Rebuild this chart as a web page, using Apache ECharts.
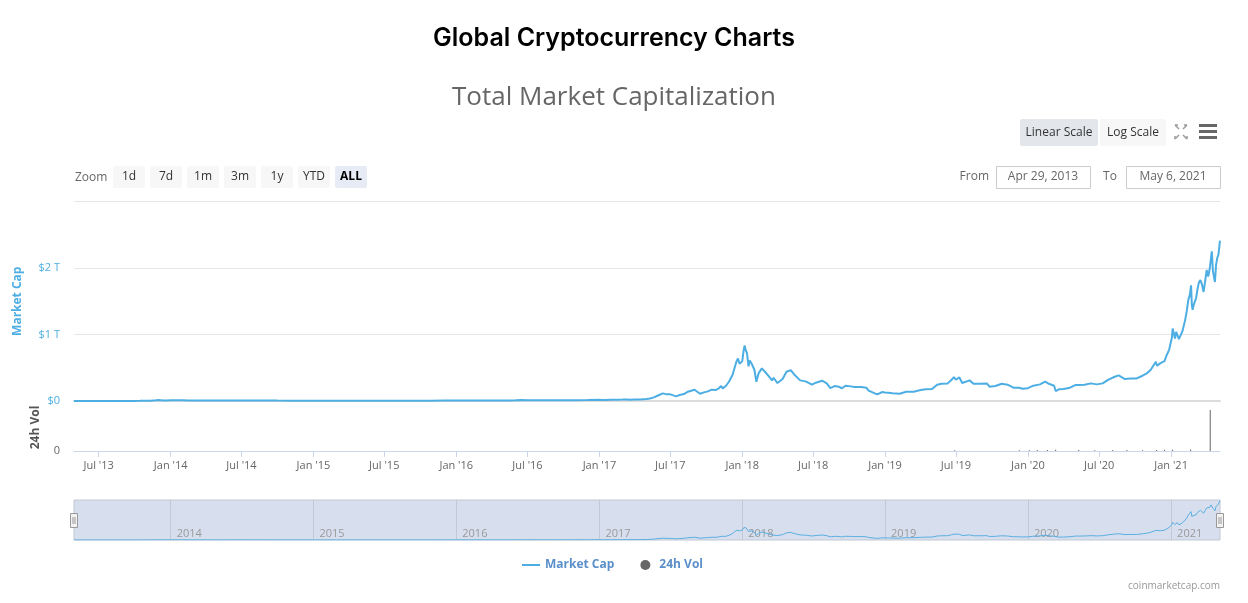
<!DOCTYPE html>
<html>
<head>
<meta charset="utf-8">
<script src="https://cdn.jsdelivr.net/npm/echarts@6/dist/echarts.min.js"></script>
<style>
html,body{margin:0;padding:0;background:#fff;}
#chart{width:1248px;height:603px;}
</style>
</head>
<body>
<div id="chart"></div>
<script>
// Total market capitalization (billions USD)
const capDates = [
  '2013-04-29','2013-05-15','2013-06-01','2013-06-15','2013-07-01','2013-07-15','2013-08-01','2013-08-15','2013-09-01','2013-09-15','2013-10-01','2013-10-15','2013-11-01','2013-11-10','2013-11-18','2013-11-25','2013-12-01','2013-12-07','2013-12-15','2013-12-22',
  '2014-01-01','2014-01-15','2014-02-01','2014-02-15','2014-03-01','2014-03-15','2014-04-01','2014-04-15','2014-05-01','2014-05-15','2014-06-01','2014-06-15','2014-07-01','2014-08-01','2014-09-01','2014-10-01','2014-11-01','2014-12-01',
  '2015-01-01','2015-01-15','2015-02-01','2015-03-01','2015-04-01','2015-05-01','2015-06-01','2015-07-01','2015-07-15','2015-08-01','2015-09-01','2015-10-01','2015-11-01','2015-11-05','2015-12-01',
  '2016-01-01','2016-02-01','2016-03-01','2016-04-01','2016-05-01','2016-05-20','2016-06-01','2016-06-16','2016-07-01','2016-08-01','2016-09-01','2016-10-01','2016-11-01','2016-12-01',
  '2017-01-01','2017-01-08','2017-01-15','2017-02-01','2017-02-15','2017-03-01','2017-03-10','2017-03-20','2017-04-01','2017-04-15','2017-05-01','2017-05-10','2017-05-20','2017-05-25','2017-06-01','2017-06-12','2017-06-20','2017-07-01','2017-07-16','2017-07-25','2017-08-05','2017-08-15','2017-09-01','2017-09-15','2017-09-25','2017-10-05','2017-10-15','2017-10-25','2017-11-01','2017-11-08','2017-11-12','2017-11-20','2017-11-28','2017-12-07','2017-12-10','2017-12-17','2017-12-21','2017-12-25','2017-12-28',
  '2018-01-01','2018-01-04','2018-01-07','2018-01-10','2018-01-13','2018-01-17','2018-01-20','2018-01-25','2018-02-01','2018-02-06','2018-02-12','2018-02-20','2018-02-28','2018-03-05','2018-03-10','2018-03-18','2018-03-22','2018-04-01','2018-04-06','2018-04-14','2018-04-24','2018-05-05','2018-05-15','2018-05-29','2018-06-12','2018-06-28','2018-07-08','2018-07-24','2018-08-05','2018-08-14','2018-08-25','2018-09-05','2018-09-12','2018-09-22','2018-10-05','2018-10-15','2018-11-01','2018-11-14','2018-11-20','2018-11-25','2018-12-07','2018-12-14','2018-12-24',
  '2019-01-01','2019-01-10','2019-01-20','2019-02-07','2019-02-24','2019-03-15','2019-04-02','2019-04-15','2019-05-01','2019-05-14','2019-05-25','2019-06-10','2019-06-20','2019-06-26','2019-07-01','2019-07-10','2019-07-17','2019-08-05','2019-08-15','2019-09-01','2019-09-18','2019-09-25','2019-10-10','2019-10-26','2019-11-10','2019-11-25','2019-12-10','2019-12-18',
  '2020-01-01','2020-01-15','2020-02-01','2020-02-14','2020-02-25','2020-03-08','2020-03-12','2020-03-20','2020-04-01','2020-04-15','2020-05-01','2020-05-10','2020-05-25','2020-06-10','2020-06-25','2020-07-10','2020-07-25','2020-08-10','2020-08-20','2020-09-05','2020-09-20','2020-10-05','2020-10-20','2020-11-01','2020-11-10','2020-11-23','2020-11-26','2020-12-05','2020-12-15','2020-12-20','2020-12-27',
  '2021-01-03','2021-01-05','2021-01-08','2021-01-11','2021-01-14','2021-01-17','2021-01-21','2021-01-24','2021-01-30','2021-02-06','2021-02-10','2021-02-14','2021-02-18','2021-02-21','2021-02-23','2021-02-25','2021-02-28','2021-03-06','2021-03-10','2021-03-13','2021-03-17','2021-03-21','2021-03-25','2021-03-29','2021-04-02','2021-04-06','2021-04-10','2021-04-13','2021-04-15','2021-04-18','2021-04-23','2021-04-26','2021-04-29','2021-05-02','2021-05-06'
];
const capValues = [
  1.6,1.4,1.4,1.3,1.1,1.0,1.3,1.3,1.7,1.6,1.8,2.1,2.8,4.0,7.5,10.0,13.5,12.5,9.0,8.6,
  10.5,11.5,11.0,9.0,8.5,8.0,6.5,7.0,6.0,6.5,8.5,8.8,8.8,8.3,7.3,5.9,5.3,5.5,
  5.3,3.2,3.7,4.0,4.0,3.6,3.5,4.4,4.8,4.6,4.2,4.4,5.5,7.0,6.4,
  7.0,6.6,7.8,7.5,8.0,8.6,10.0,13.5,11.5,10.2,10.4,10.8,12.0,13.4,
  17.7,15,15.5,17,17.8,21,24,19,21.5,23.5,30,38,55,85,87,115,103,100,70,90,105,140,170,110,130,145,170,165,185,225,190,225,290,390,420,590,640,560,540,
  600,740,835,760,720,520,610,560,470,290,420,490,440,470,370,310,350,270,260,330,440,465,390,310,295,245,275,305,265,195,225,215,190,230,220,210,210,200,155,125,110,102,135,
  128,125,118,110,138,140,165,175,180,245,260,265,320,360,320,355,270,310,260,260,265,215,225,260,245,200,198,185,
  193,230,250,290,255,230,150,175,180,195,240,240,245,265,250,265,320,365,385,330,340,340,380,420,470,590,530,570,600,680,770,
  950,1090,1120,940,1040,1070,930,920,1050,1220,1350,1520,1600,1740,1450,1370,1450,1550,1700,1780,1820,1750,1640,1800,1970,1870,2000,2150,2250,1950,1790,2050,2150,2200,2410
];
// 24h volume (billions USD)
const volDates = ['2019-06-28','2019-12-10','2020-01-05','2020-01-25','2020-02-20','2020-03-12','2020-05-10','2020-06-20','2020-08-05','2020-09-10','2020-10-20','2020-11-25','2020-12-15','2021-01-05','2021-02-20','2021-04-11'];
const volValues = [60,60,70,80,90,110,80,70,90,80,70,90,100,110,120,3500];
// axis ticks
const xTickDates = ['2013-07-01','2014-01-01','2014-07-01','2015-01-01','2015-07-01','2016-01-01','2016-07-01','2017-01-01','2017-07-01','2018-01-01','2018-07-01','2019-01-01','2019-07-01','2020-01-01','2020-07-01','2021-01-01'];
const navYearDates = ['2014-01-01','2015-01-01','2016-01-01','2017-01-01','2018-01-01','2019-01-01','2020-01-01','2021-01-01'];
const monthNames = ['Jan','Feb','Mar','Apr','May','Jun','Jul','Aug','Sep','Oct','Nov','Dec'];

const ts = s => { const p = s.split('-').map(Number); return Date.UTC(p[0], p[1] - 1, p[2]); };
const xMin = ts('2013-04-29'), xMax = ts('2021-05-06');
const capData = capDates.map((d, i) => [ts(d), capValues[i]]);
const volData = volDates.map((d, i) => [ts(d), volValues[i]]);
const xTicks = xTickDates.map(ts);
const navTicks = navYearDates.map(ts);

const FONT = '"Open Sans", "DejaVu Sans", sans-serif';
const BLUE = '#4daee3';

function btn(x, y, w, h, label, fill, bold) {
  return [
    {type: 'rect', shape: {x: x, y: y, width: w, height: h, r: 2}, style: {fill: fill}},
    {type: 'text', x: x + w / 2, y: y + h / 2, style: {text: label, fill: bold ? '#000' : '#333', font: (bold ? 'bold ' : '') + '12px ' + FONT, align: 'center', verticalAlign: 'middle'}}
  ];
}
const zoomBtns = [];
[['1d',113],['7d',150],['1m',187],['3m',224],['1y',261],['YTD',298]].forEach(b => zoomBtns.push(...btn(b[1], 166, 32, 22, b[0], '#f7f7f7', false)));
zoomBtns.push(...btn(335, 166, 32, 22, 'ALL', '#e6ebf5', true));

const graphics = [
  {type: 'text', x: 614, y: 38, style: {text: 'Global Cryptocurrency Charts', fill: '#000', font: '600 25px Inter, "Open Sans", sans-serif', align: 'center', verticalAlign: 'middle'}},
  {type: 'text', x: 614, y: 98, style: {text: 'Total Market Capitalization', fill: '#666', font: '26px ' + FONT, align: 'center', verticalAlign: 'middle'}},
  ...btn(1020, 119, 78, 27, 'Linear Scale', '#e3e6eb', false),
  ...btn(1100, 119, 66, 27, 'Log Scale', '#f7f7f7', false),
  {type: 'polyline', shape: {points: [[1175,125],[1179,129]]}, style: {stroke: '#999', lineWidth: 1.5}},
  {type: 'polyline', shape: {points: [[1175,125],[1178,125]]}, style: {stroke: '#999', lineWidth: 1.5}},
  {type: 'polyline', shape: {points: [[1187,125],[1183,129]]}, style: {stroke: '#999', lineWidth: 1.5}},
  {type: 'polyline', shape: {points: [[1187,125],[1184,125]]}, style: {stroke: '#999', lineWidth: 1.5}},
  {type: 'polyline', shape: {points: [[1175,139],[1179,135]]}, style: {stroke: '#999', lineWidth: 1.5}},
  {type: 'polyline', shape: {points: [[1175,139],[1175,136]]}, style: {stroke: '#999', lineWidth: 1.5}},
  {type: 'polyline', shape: {points: [[1187,139],[1183,135]]}, style: {stroke: '#999', lineWidth: 1.5}},
  {type: 'polyline', shape: {points: [[1187,139],[1187,136]]}, style: {stroke: '#999', lineWidth: 1.5}},
  {type: 'rect', shape: {x: 1199, y: 124, width: 18, height: 3}, style: {fill: '#666'}},
  {type: 'rect', shape: {x: 1199, y: 130, width: 18, height: 3}, style: {fill: '#666'}},
  {type: 'rect', shape: {x: 1199, y: 136, width: 18, height: 3}, style: {fill: '#666'}},
  {type: 'text', x: 75, y: 178, style: {text: 'Zoom', fill: '#666', font: '12px ' + FONT, align: 'left', verticalAlign: 'middle'}},
  ...zoomBtns,
  {type: 'text', x: 989, y: 177, style: {text: 'From', fill: '#666', font: '12px ' + FONT, align: 'right', verticalAlign: 'middle'}},
  {type: 'rect', shape: {x: 996.5, y: 166.5, width: 94, height: 22}, style: {fill: '#fff', stroke: '#ccc', lineWidth: 1}},
  {type: 'text', x: 1043, y: 177, style: {text: 'Apr 29, 2013', fill: '#666', font: '12px ' + FONT, align: 'center', verticalAlign: 'middle'}},
  {type: 'text', x: 1110, y: 177, style: {text: 'To', fill: '#666', font: '12px ' + FONT, align: 'center', verticalAlign: 'middle'}},
  {type: 'rect', shape: {x: 1126.5, y: 166.5, width: 94, height: 22}, style: {fill: '#fff', stroke: '#ccc', lineWidth: 1}},
  {type: 'text', x: 1173, y: 177, style: {text: 'May 6, 2021', fill: '#666', font: '12px ' + FONT, align: 'center', verticalAlign: 'middle'}},
  {type: 'rect', shape: {x: 70.5, y: 513.5, width: 7, height: 14}, style: {fill: '#f2f2f2', stroke: '#999', lineWidth: 1}, z: 100},
  {type: 'polyline', shape: {points: [[73,517],[73,524]]}, style: {stroke: '#999', lineWidth: 1}, z: 101},
  {type: 'polyline', shape: {points: [[75,517],[75,524]]}, style: {stroke: '#999', lineWidth: 1}, z: 101},
  {type: 'rect', shape: {x: 1216.5, y: 513.5, width: 7, height: 14}, style: {fill: '#f2f2f2', stroke: '#999', lineWidth: 1}, z: 100},
  {type: 'polyline', shape: {points: [[1219,517],[1219,524]]}, style: {stroke: '#999', lineWidth: 1}, z: 101},
  {type: 'polyline', shape: {points: [[1221,517],[1221,524]]}, style: {stroke: '#999', lineWidth: 1}, z: 101},
  {type: 'text', x: 1220, y: 586, style: {text: 'coinmarketcap.com', fill: '#999', font: '10px ' + FONT, align: 'right', verticalAlign: 'middle'}}
];

const fmtMonth = v => { const d = new Date(v); return monthNames[d.getUTCMonth()] + " '" + String(d.getUTCFullYear()).slice(2); };

const option = {
  animation: false,
  backgroundColor: '#fff',
  textStyle: {fontFamily: FONT},
  graphic: graphics,
  legend: {
    left: 517, top: 554,
    itemGap: 26, itemWidth: 18, itemHeight: 10,
    textStyle: {color: '#5b8fc9', fontWeight: 'bold', fontSize: 12, fontFamily: FONT},
    data: [
      {name: 'Market Cap', icon: 'path://M0,0L18,0L18,2L0,2Z'},
      {name: '24h Vol', icon: 'circle'}
    ]
  },
  grid: [
    {left: 74, right: 28, top: 201.5, height: 199.5},
    {left: 74, right: 28, top: 404, height: 47},
    {left: 74, right: 28, top: 500, height: 40, show: true, backgroundColor: '#d7dfee', borderColor: '#c2c8d4', borderWidth: 1}
  ],
  xAxis: [
    {type: 'value', gridIndex: 0, min: xMin, max: xMax, scale: true,
      axisLine: {show: true, lineStyle: {color: '#dcdcdc', width: 2}},
      axisTick: {show: false}, axisLabel: {show: false}, splitLine: {show: false}},
    {type: 'value', gridIndex: 1, min: xMin, max: xMax, scale: true,
      axisLine: {show: true, lineStyle: {color: '#ccd6eb', width: 1}},
      axisTick: {show: true, customValues: xTicks, length: 6, lineStyle: {color: '#ccd6eb'}},
      axisLabel: {show: true, customValues: xTicks, formatter: fmtMonth, color: '#666', fontSize: 11, fontFamily: FONT, margin: 9, hideOverlap: false},
      splitLine: {show: false}},
    {type: 'value', gridIndex: 2, min: xMin, max: xMax, scale: true,
      axisLine: {show: false},
      axisTick: {show: true, inside: true, customValues: navTicks, length: 40, lineStyle: {color: '#c2c8d4'}},
      axisLabel: {show: true, inside: true, customValues: navTicks, formatter: v => String(new Date(v).getUTCFullYear()), color: '#999', fontSize: 11, fontFamily: FONT, align: 'left', padding: [0, 0, 0, 6], margin: 1, hideOverlap: false},
      splitLine: {show: false}}
  ],
  yAxis: [
    {type: 'value', gridIndex: 0, min: 0, max: 3000, interval: 1000,
      name: 'Market Cap', nameLocation: 'middle', nameGap: 50, nameRotate: 90,
      nameTextStyle: {color: BLUE, fontWeight: 'bold', fontSize: 12, fontFamily: FONT},
      axisLine: {show: false}, axisTick: {show: false},
      axisLabel: {color: BLUE, fontSize: 11, margin: 14, showMaxLabel: false, formatter: v => v === 0 ? '$0' : '$' + (v / 1000) + ' T'},
      splitLine: {show: true, lineStyle: {color: '#e6e6e6', width: 1}}},
    {type: 'value', gridIndex: 1, min: 0, max: 4000, interval: 4000,
      name: '24h Vol', nameLocation: 'middle', nameGap: 32, nameRotate: 90,
      nameTextStyle: {color: '#555', fontWeight: 'bold', fontSize: 12, fontFamily: FONT},
      axisLine: {show: false}, axisTick: {show: false},
      axisLabel: {color: '#666', fontSize: 11, margin: 14, showMaxLabel: false, formatter: v => v === 0 ? '0' : ''},
      splitLine: {show: false}},
    {type: 'value', gridIndex: 2, min: 0, max: 2450,
      axisLine: {show: false}, axisTick: {show: false}, axisLabel: {show: false}, splitLine: {show: false}}
  ],
  series: [
    {name: 'Market Cap', type: 'line', xAxisIndex: 0, yAxisIndex: 0, data: capData,
      showSymbol: false, symbol: 'none', lineStyle: {color: BLUE, width: 2}, itemStyle: {color: BLUE}, z: 5},
    {name: '24h Vol', type: 'bar', xAxisIndex: 1, yAxisIndex: 1, data: volData,
      barWidth: 1, itemStyle: {color: '#666'}},
    {name: 'nav', type: 'line', xAxisIndex: 2, yAxisIndex: 2, data: capData,
      showSymbol: false, symbol: 'none', lineStyle: {color: '#5aaee0', width: 1}, silent: true}
  ]
};

const chart = echarts.init(document.getElementById('chart'), null, {renderer: 'canvas'});
chart.setOption(option);
</script>
</body>
</html>
